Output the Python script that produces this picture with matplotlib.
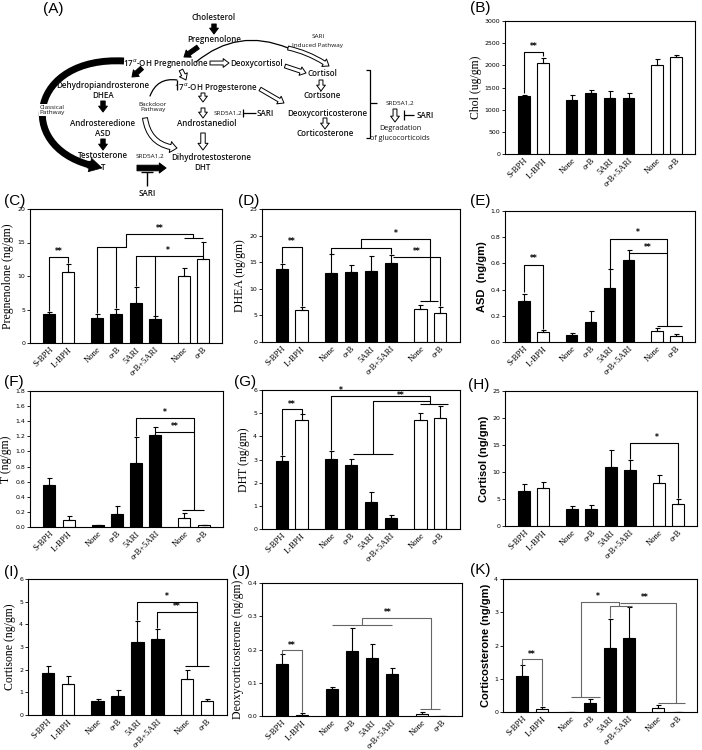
import matplotlib
matplotlib.use('Agg')
import matplotlib.pyplot as plt
import numpy as np
from matplotlib.patches import FancyArrowPatch, PathPatch
from matplotlib.path import Path
from matplotlib.ticker import FormatStrFormatter

# ---------------- data ----------------
categories = ['S-BPH', 'L-BPH', 'None', 'α-B', '5ARI', 'α-B+5ARI', 'None', 'α-B']
filled = [True, False, True, True, True, True, False, False]

chol = [1297, 2062, 1207, 1365, 1252, 1252, 2002, 2190]
chol_err = [45, 105, 135, 82, 180, 113, 143, 53]
preg = [4.3, 10.6, 3.7, 4.4, 6.0, 3.6, 10.0, 12.5]
preg_err = [0.35, 1.2, 0.6, 0.65, 2.4, 0.4, 1.2, 2.6]
dhea = [13.7, 6.0, 13.0, 13.1, 13.3, 14.8, 6.2, 5.5]
dhea_err = [1.0, 0.6, 3.5, 1.4, 2.9, 1.6, 0.7, 1.1]
asd = [0.315, 0.075, 0.05, 0.155, 0.415, 0.625, 0.085, 0.048]
asd_err = [0.055, 0.015, 0.015, 0.08, 0.14, 0.08, 0.025, 0.01]
testo = [0.56, 0.09, 0.025, 0.17, 0.85, 1.22, 0.115, 0.02]
testo_err = [0.09, 0.05, 0.005, 0.11, 0.34, 0.11, 0.07, 0.01]
dht = [2.93, 4.72, 3.03, 2.77, 1.18, 0.47, 4.72, 4.77]
dht_err = [0.22, 0.25, 0.32, 0.25, 0.42, 0.13, 0.28, 0.55]
cortisol = [6.5, 7.0, 3.2, 3.2, 10.9, 10.4, 7.9, 4.1]
cortisol_err = [1.2, 1.2, 0.5, 0.6, 3.2, 1.9, 1.5, 0.9]
cortisone = [1.84, 1.35, 0.6, 0.85, 3.2, 3.37, 1.58, 0.63]
cortisone_err = [0.3, 0.35, 0.1, 0.27, 0.95, 0.43, 0.42, 0.07]
doc = [0.155, 0.004, 0.08, 0.194, 0.175, 0.127, 0.006, 0.0]
doc_err = [0.03, 0.006, 0.007, 0.071, 0.043, 0.017, 0.007, 0.0]
cortico = [1.09, 0.1, 0.0, 0.28, 1.93, 2.22, 0.13, 0.0]
cortico_err = [0.32, 0.06, 0.0, 0.1, 0.88, 0.93, 0.07, 0.0]

xpos = [0, 1, 2.5, 3.5, 4.5, 5.5, 7, 8]

W, H = 702, 750
fig = plt.figure(figsize=(7.02, 7.5), dpi=100)

# overlay axes in pixel coordinates for diagram and letters
ov = fig.add_axes([0, 0, 1, 1])
ov.set_xlim(0, W)
ov.set_ylim(H, 0)
ov.axis('off')
ov.patch.set_visible(False)

DFONT = 'Open Sans'


def rect(l, t, r, b):
    return [l / W, 1 - b / H, (r - l) / W, (b - t) / H]


def path(ax, pts, color='black', lw=0.8):
    xs = [p[0] for p in pts]
    ys = [p[1] for p in pts]
    ax.plot(xs, ys, color=color, lw=lw, zorder=4, solid_capstyle='butt')


def star(ax, x, y, s, color='black'):
    ax.text(x, y, s, ha='center', va='bottom', fontsize=5.5, fontweight='bold', color=color, zorder=5)


def panel(box, vals, errs, ymax, ystep, fmt, ylabel, yfont, letter, lxy):
    ax = fig.add_axes(rect(*box))
    cols = ['black' if f else 'white' for f in filled]
    ax.bar(xpos, vals, width=0.62, color=cols, edgecolor='black', linewidth=0.8, zorder=2)
    ax.errorbar(xpos, vals, yerr=[np.zeros(len(vals)), errs], fmt='none', ecolor='black',
                elinewidth=0.8, capsize=1.8, capthick=0.8, zorder=3)
    ax.set_xlim(-1, 9)
    ax.set_ylim(0, ymax)
    ax.set_yticks(np.arange(0, ymax + ystep / 2, ystep))
    ax.yaxis.set_major_formatter(FormatStrFormatter(fmt))
    ax.tick_params(axis='y', labelsize=4.5, length=2, width=0.6, pad=1.5)
    ax.set_xticks(xpos)
    ax.set_xticklabels(categories, rotation=45, ha='right', rotation_mode='anchor',
                       fontsize=6.2, family='Liberation Serif')
    ax.tick_params(axis='x', length=0, pad=2)
    for s in ax.spines.values():
        s.set_linewidth(0.8)
    if yfont == 'serif':
        ax.set_ylabel(ylabel, fontsize=8.5, family='Liberation Serif', labelpad=2)
    else:
        ax.set_ylabel(ylabel, fontsize=8, family='Liberation Sans', fontweight='bold', labelpad=2)
    ov.text(lxy[0], lxy[1], letter, fontsize=11, family='Liberation Sans', ha='left', va='center')
    return ax


# ---------------- bar panels ----------------
axB = panel((505, 21, 695, 154), chol, chol_err, 3000, 500, '%d', 'Chol (ug/gm)', 'serif', '(B)', (470, 8))
path(axB, [(0, 1380), (0, 2300), (1, 2300), (1, 2200)])
star(axB, 0.5, 2320, '**')

axC = panel((30, 209, 222, 343), preg, preg_err, 20, 5, '%d', 'Pregnenolone (ng/gm)', 'serif', '(C)', (4, 201))
path(axC, [(0, 4.8), (0, 12.8), (1, 12.8), (1, 12.0)])
star(axC, 0.5, 13.0, '**')
path(axC, [(2.5, 4.5), (2.5, 14.4), (4.0, 14.4), (4.0, 16.2), (7.5, 16.2), (7.5, 15.7)])
path(axC, [(3.5, 5.2), (3.5, 14.4)])
path(axC, [(7.0, 15.7), (8.0, 15.7)])
star(axC, 5.75, 16.4, '**')
path(axC, [(4.5, 8.5), (4.5, 13.0), (8.0, 13.0)])
path(axC, [(5.5, 4.1), (5.5, 13.0)])
star(axC, 6.2, 13.2, '*')

axD = panel((262, 209, 460, 342), dhea, dhea_err, 25, 5, '%d', 'DHEA (ng/gm)', 'serif', '(D)', (238, 201))
path(axD, [(0, 14.9), (0, 17.8), (1, 17.8), (1, 6.8)])
star(axD, 0.5, 18.0, '**')
path(axD, [(2.5, 16.6), (2.5, 17.7), (5.5, 17.7), (5.5, 16.5)])
path(axD, [(4.0, 17.7), (4.0, 19.3), (7.5, 19.3), (7.5, 7.8)])
path(axD, [(7.0, 7.8), (7.9, 7.8)])
star(axD, 5.75, 19.5, '*')
path(axD, [(5.6, 16.0), (8.0, 16.0), (8.0, 6.7)])
star(axD, 6.8, 16.2, '**')

axE = panel((505, 211, 695, 342), asd, asd_err, 1.0, 0.2, '%.1f', 'ASD  (ng/gm)', 'sans', '(E)', (470, 201))
path(axE, [(0, 0.38), (0, 0.59), (1, 0.59), (1, 0.10)])
star(axE, 0.5, 0.6, '**')
path(axE, [(4.5, 0.56), (4.5, 0.79), (7.55, 0.79), (7.55, 0.125)])
star(axE, 6.0, 0.8, '*')
path(axE, [(5.5, 0.68), (7.55, 0.68)])
star(axE, 6.5, 0.69, '**')
path(axE, [(7.0, 0.125), (8.3, 0.125)])

axF = panel((30, 391, 223, 527), testo, testo_err, 1.8, 0.2, '%.1f', 'T (ng/gm)', 'serif', '(F)', (4, 382))
path(axF, [(4.5, 1.2), (4.5, 1.44), (7.5, 1.44), (7.5, 0.22)])
star(axF, 6.0, 1.46, '*')
path(axF, [(5.5, 1.26), (7.5, 1.26)])
star(axF, 6.5, 1.27, '**')
path(axF, [(6.9, 0.22), (8.0, 0.22)])

axG = panel((262, 390, 460, 529), dht, dht_err, 6, 1, '%d', 'DHT (ng/gm)', 'serif', '(G)', (234, 382))
path(axG, [(0, 3.2), (0, 5.17), (1, 5.17), (1, 4.97)])
star(axG, 0.5, 5.2, '**')
path(axG, [(2.5, 3.4), (2.5, 5.76), (7.5, 5.76), (7.5, 5.39)])
star(axG, 3.0, 5.78, '*')
path(axG, [(3.6, 3.25), (5.6, 3.25)])
path(axG, [(4.6, 3.25), (4.6, 5.54), (7.5, 5.54)])
star(axG, 6.0, 5.56, '**')
path(axG, [(7.0, 5.39), (8.4, 5.39)])

axH = panel((505, 391, 697, 526), cortisol, cortisol_err, 25, 5, '%d', 'Cortisol (ng/gm)', 'sans', '(H)', (468, 385))
path(axH, [(5.5, 12.5), (5.5, 15.3), (8.0, 15.3), (8.0, 5.1)])
star(axH, 6.9, 15.5, '*')

axI = panel((28, 579, 227, 715), cortisone, cortisone_err, 6, 1, '%d', 'Cortisone (ng/gm)', 'serif', '(I)', (4, 572))
path(axI, [(4.5, 4.2), (4.5, 5.0), (7.5, 5.0), (7.5, 2.15)])
star(axI, 6.0, 5.05, '*')
path(axI, [(5.5, 3.85), (5.5, 4.55), (7.5, 4.55)])
star(axI, 6.5, 4.6, '**')
path(axI, [(6.9, 2.15), (8.1, 2.15)])

GR = '#666666'
axJ = panel((262, 583, 462, 716), doc, doc_err, 0.4, 0.1, '%.1f', 'Deoxycorticosterone (ng/gm)', 'serif', '(J)', (232, 572))
path(axJ, [(0, 0.186), (0, 0.197), (1, 0.197), (1, 0.012)], GR)
star(axJ, 0.5, 0.198, '**')
path(axJ, [(2.5, 0.274), (5.5, 0.274)], GR)
path(axJ, [(4.0, 0.274), (4.0, 0.295), (7.45, 0.295), (7.45, 0.02)], GR)
star(axJ, 5.3, 0.297, '**')
path(axJ, [(6.9, 0.02), (7.9, 0.02)], GR)

axK = panel((503, 579, 697, 712), cortico, cortico_err, 4, 1, '%d', 'Corticosterone (ng/gm)', 'sans', '(K)', (470, 570))
path(axK, [(0, 1.42), (0, 1.58), (1, 1.58), (1, 0.18)], GR)
star(axK, 0.5, 1.6, '**')
path(axK, [(2.5, 0.45), (4.0, 0.45)], GR)
path(axK, [(3.0, 0.45), (3.0, 3.3), (5.0, 3.3), (5.0, 3.19)], GR)
star(axK, 3.9, 3.33, '*')
path(axK, [(4.5, 2.82), (4.5, 3.19), (5.65, 3.19)], GR)
path(axK, [(5.5, 3.15), (5.5, 3.19)], GR)
path(axK, [(5.03, 3.29), (7.9, 3.29), (7.9, 0.27)], GR)
star(axK, 6.3, 3.32, '**')
path(axK, [(7.0, 0.27), (8.4, 0.27)], GR)

# ---------------- diagram (A) ----------------
ov.text(43, 9, '(A)', fontsize=11, family='Liberation Sans', ha='left', va='center')


def t(x, y, s, size=5.8, weight='semibold', bg=False):
    kw = {}
    if bg:
        kw['bbox'] = dict(facecolor='white', edgecolor='none', pad=0.5)
    ov.text(x, y, s, ha='center', va='center', fontsize=size, family=DFONT, fontweight=weight,
            color='#111111', zorder=6, **kw)


def arrow(p1, p2, fc='white', ms=7, hl=0.6, hw=0.9, tw=0.4, rad=0.0, lw=0.7):
    a = FancyArrowPatch(p1, p2, arrowstyle='simple,head_length=%g,head_width=%g,tail_width=%g' % (hl, hw, tw),
                        mutation_scale=ms, fc=fc, ec='black', lw=lw, shrinkA=0, shrinkB=0,
                        connectionstyle='arc3,rad=%g' % rad, zorder=5)
    ov.add_patch(a)


def curve(p1, p2, rad, lw=0.9):
    a = FancyArrowPatch(p1, p2, arrowstyle='-', color='black', lw=lw, shrinkA=0, shrinkB=0,
                        connectionstyle='arc3,rad=%g' % rad)
    ov.add_patch(a)


t(214, 17, 'Cholesterol')
arrow((214, 24), (214, 34), fc='black', ms=7, tw=0.45)
t(214, 39, 'Pregnenolone')
arrow((198, 47), (184, 57), fc='black', ms=7, tw=0.45)
t(166, 63, r'17$^{\alpha}$-OH Pregnenolone')
arrow((210, 63), (229, 63))
t(257, 63, 'Deoxycortisol')
arrow((285, 66), (306, 73))
t(322, 74, 'Cortisol')
arrow((321, 80), (321, 91))
t(322, 96, 'Cortisone')
arrow((181, 70), (186, 80))
t(216, 87, r'17$^{\alpha}$-OH Progesterone')
arrow((260, 89), (284, 103))
t(327, 113, 'Deoxycorticosterone')
arrow((325, 118), (325, 129))
t(325, 134, 'Corticosterone')

t(103, 85, 'Dehydropiandrosterone')
t(103, 96, 'DHEA')
arrow((142, 68), (132, 77), fc='black', ms=7, tw=0.45)
arrow((103, 101), (103, 112), fc='black', ms=7, tw=0.45)
t(103, 123, 'Androsteredione')
t(103, 134, 'ASD')
arrow((103, 139), (103, 150), fc='black', ms=7, tw=0.45)
t(103, 155, 'Testosterone')
t(103, 167, 'T')

# big classical pathway arrow (thick curved body + head)
body = Path([(124, 61), (30, 56), (15, 145), (90, 165)],
            [Path.MOVETO, Path.CURVE4, Path.CURVE4, Path.CURVE4])
ov.add_patch(PathPatch(body, facecolor='none', edgecolor='black', lw=5.0, capstyle='butt', zorder=3))
arrow((88, 164.5), (102, 168), fc='black', ms=10, hl=0.9, hw=1.0, tw=0.5, lw=0.5)
t(52, 110, 'Classical\nPathway', size=4.6, weight='normal', bg=True)

# backdoor pathway
t(153, 107, 'Backdoor\nPathway', size=4.6, weight='normal')
curve((150, 96), (177, 80), -0.4)
path(ov, [(177, 80), (177, 90)], lw=0.9)
arrow((145, 118), (177, 148), ms=8, hl=0.6, hw=1.0, tw=0.45, rad=0.4)

arrow((203, 93), (203, 102))
arrow((203, 108), (203, 118))
t(228, 113, 'SRD5A1,2', size=4.6, weight='normal')
path(ov, [(243, 109), (243, 117)], lw=0.9)
path(ov, [(243, 113), (256, 113)], lw=0.9)
t(265, 113, 'SARI')
t(207, 124, 'Androstanediol')
arrow((203, 133), (203, 150), ms=8)
t(211, 157, 'Dihydrotestosterone')
t(202, 168, 'DHT')
t(150, 156, 'SRD5A1,2', size=4.6, weight='normal')
arrow((137, 168), (166, 168), fc='black', ms=8, hl=0.6, hw=0.9, tw=0.5)
path(ov, [(147, 172), (147, 186)], lw=1.0)
path(ov, [(141, 172), (153, 172)], lw=1.0)
t(147, 193, 'SARI')

# SARI induced pathway
t(318, 37, 'SARI', size=4.6, weight='normal')
t(318, 45, 'Induced Pathway', size=4.6, weight='normal')
curve((196, 62), (288, 48), -0.3)
arrow((288, 48), (329, 66), ms=7, rad=-0.1)

# degradation bracket
path(ov, [(366, 70), (370, 70), (370, 138), (366, 138)], lw=0.9)
path(ov, [(370, 103), (377, 103)], lw=0.9)
t(400, 103, 'SRD5A1,2', size=4.6, weight='normal')
arrow((395, 109), (395, 122))
path(ov, [(404, 110), (404, 120)], lw=0.9)
path(ov, [(404, 115), (414, 115)], lw=0.9)
t(425, 115, 'SARI')
t(400, 128, 'Degradation', size=5.2, weight='normal')
t(400, 139, 'of glucocorticoids', size=5.2, weight='normal')

fig.savefig('out.png', dpi=100)
